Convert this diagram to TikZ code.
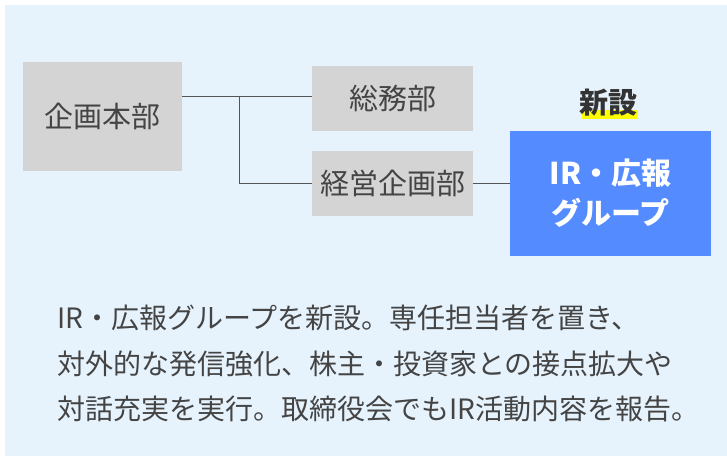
\documentclass[tikz,border=0pt]{standalone}
\usepackage{fontspec}
\setmainfont{Noto Sans CJK JP}
\definecolor{bgblue}{HTML}{E6F3FD}
\definecolor{boxgray}{HTML}{D4D4D4}
\definecolor{irblue}{HTML}{548CFF}
\definecolor{txt}{HTML}{444444}
\definecolor{linecol}{HTML}{555555}
\definecolor{hl}{HTML}{FFFF00}
\begin{document}
\begin{tikzpicture}[x=1pt,y=-1pt,
  graybox/.style={fill=boxgray, inner sep=0pt, text=txt, font=\fontsize{29}{32}\selectfont},
  irbox/.style={fill=irblue, inner sep=0pt, text=white, align=center, font=\bfseries\fontsize{30}{40}\selectfont},
  conn/.style={draw=linecol, line width=1pt},
  body/.style={anchor=base west, inner sep=0pt, text=txt, font=\fontsize{28}{32}\selectfont}]
\useasboundingbox (0,0) rectangle (727,458);
\fill[bgblue] (5,5) rectangle (727,456);

\node[graybox, minimum width=159pt, minimum height=109pt] (hq) at (102.5,116.5) {企画本部};
\node[graybox, minimum width=161pt, minimum height=65pt] (soumu) at (392.5,98.5) {総務部};
\node[graybox, minimum width=161pt, minimum height=65pt] (keiei) at (392.5,183.5) {経営企画部};
\node[irbox, minimum width=201pt, minimum height=125pt] (ir) at (610.5,193.5) {IR・広報\\グループ};

\fill[hl] (582,110) rectangle (638,119);
\node[inner sep=0pt, text=black!80, font=\bfseries\fontsize{29}{32}\selectfont] (new) at (608,103) {新設};

\coordinate (j) at (239,96);
\draw[conn] (hq.east|-j) -- (soumu.west|-j);
\draw[conn] (j) -- (j|-keiei.west) -- (keiei.west);
\draw[conn] (keiei.east) -- (ir.west|-keiei.east);

\node[body] (t1) at (57,328.6) {IR・広報グループを新設。専任担当者を置き、};
\node[body] (t2) at (57,374.6) {対外的な発信強化、株主・投資家との接点拡大や};
\node[body] (t3) at (57,419.6) {対話充実を実行。取締役会でもIR活動内容を報告。};
\end{tikzpicture}
\end{document}
